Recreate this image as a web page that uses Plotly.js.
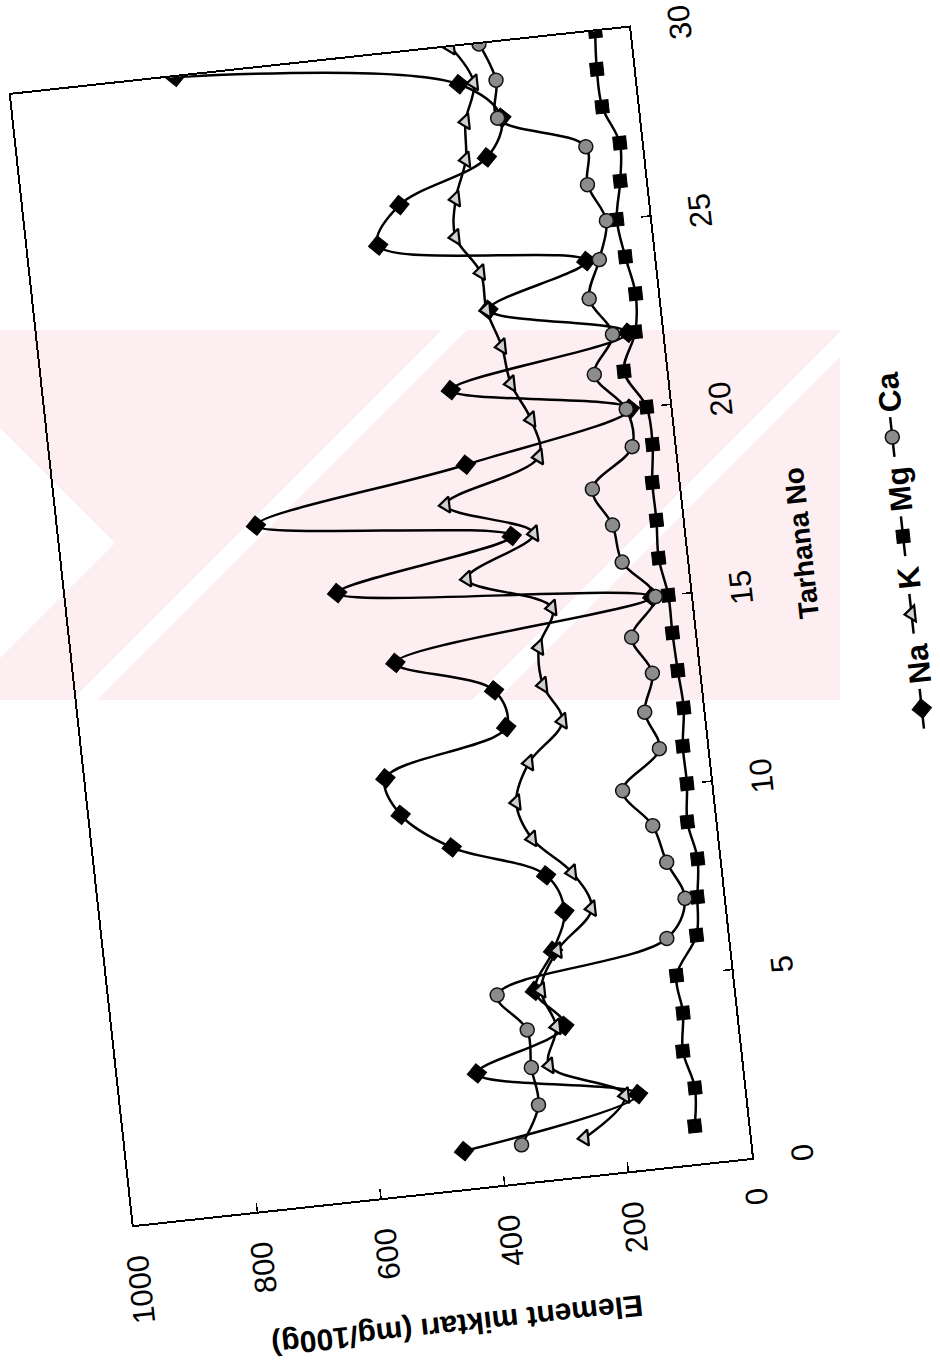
<!DOCTYPE html>
<html><head><meta charset="utf-8">
<script src="https://cdn.plot.ly/plotly-3.0.1.min.js"></script>
<style>
html,body{margin:0;padding:0;overflow:hidden;background:#fff;width:940px;height:1371px;}
#bg{position:absolute;left:0;top:0;width:940px;height:1371px;}
#chart{position:absolute;left:0;top:0;width:1327px;height:912px;transform-origin:0 0;transform:translate(132.1px,1396.3px) rotate(-96.2deg);}
</style></head><body>
<div id="bg"></div>
<div id="chart"></div>
<script>
// ---- data ----
const tarhanaNo = [1,2,3,4,5,6,7,8,9,10,11,12,13,14,15,16,17,18,19,20,21,22,23,24,25,26,27,28,29,30];
const Na = [459,171,425,277,318,282,257,280,426,502,520,318,331,484,62,565,276,683,337,65,348,55,274,109,439,398,250,220,282,734];
const K  = [264,192,308,290,308,275,213,238,296,315,288,227,252,252,224,355,240,376,219,225,251,259,277,280,314,307,284,278,258,289];
const Mg = [86,79,92,85,89,50,42,35,45,39,39,31,34,36,36,45,42,42,35,38,68,43,36,46,53,41,35,57,59,55];
const Ca = [366,332,337,337,379,98,62,85,101,143,77,94,75,102,57,104,113,139,68,71,116,80,111,88,70,94,90,226,222,243];
const seriesNames = ['Na','K','Mg','Ca'];
const xTicks = [0,5,10,15,20,25,30];
const yTicks = [0,200,400,600,800,1000];
const xTitle = 'Tarhana No';
const yTitle = 'Element miktarı (mg/100g)';

// ---- faint watermark in the page background ----
const pink = '#fdeef1';
Plotly.newPlot('bg', [], {
  width:940, height:1371, margin:{l:0,r:0,t:0,b:0},
  paper_bgcolor:'#fff', plot_bgcolor:'#fff',
  xaxis:{range:[0,940], visible:false, fixedrange:true},
  yaxis:{range:[1371,0], visible:false, fixedrange:true},
  shapes:[
    {type:'rect', x0:0, x1:840, y0:330, y1:700, fillcolor:pink, line:{width:0}, layer:'below'},
    {type:'path', path:'M 0 428 L 115 543 L 0 658 Z', fillcolor:'#fff', line:{width:0}, layer:'below'},
    {type:'path', path:'M 442 330 L 467 330 L 97 700 L 72 700 Z', fillcolor:'#fff', line:{width:0}, layer:'below'},
    {type:'path', path:'M 842 330 L 867 330 L 497 700 L 472 700 Z', fillcolor:'#fff', line:{width:0}, layer:'below'}
  ],
  showlegend:false
}, {staticPlot:true});

// ---- chart (drawn upright, then turned as in the scanned page) ----
const F = 'Liberation Sans, Arial, sans-serif';
const lineStyle = {color:'#000', width:2.5, shape:'spline', smoothing:1};
const traces = [
  {name:seriesNames[0], x:tarhanaNo, y:Na, mode:'lines+markers', line:lineStyle,
   marker:{symbol:'diamond', size:15, color:'#000', line:{color:'#000', width:1}}},
  {name:seriesNames[1], x:tarhanaNo, y:K, mode:'lines+markers', line:lineStyle,
   marker:{symbol:'triangle-up', size:14, color:'#cfcfcf', line:{color:'#000', width:2.2}}},
  {name:seriesNames[2], x:tarhanaNo, y:Mg, mode:'lines+markers', line:lineStyle,
   marker:{symbol:'square', size:13, color:'#000', line:{color:'#000', width:1}}},
  {name:seriesNames[3], x:tarhanaNo, y:Ca, mode:'lines+markers', line:lineStyle,
   marker:{symbol:'circle', size:14, color:'#8c8c8c', line:{color:'#111', width:1.5}}}
];
const axisCommon = {
  showline:true, linecolor:'#000', linewidth:2, mirror:true,
  ticks:'inside', ticklen:9, tickwidth:1.5, tickcolor:'#000',
  showgrid:false, zeroline:false,
  tickfont:{family:F, size:31, color:'#000'}
};
const layout = {
  width:1327, height:912,
  margin:{l:170, r:20, t:20, b:270},
  paper_bgcolor:'rgba(0,0,0,0)', plot_bgcolor:'rgba(0,0,0,0)',
  font:{family:F, color:'#000'},
  xaxis:Object.assign({}, axisCommon, {range:[0,30], tickvals:xTicks, ticktext:xTicks.map(String), ticklabelstandoff:22}),
  yaxis:Object.assign({}, axisCommon, {range:[0,1000], tickvals:yTicks, ticktext:yTicks.map(String), ticklabelstandoff:22}),
  showlegend:true,
  legend:{orientation:'h', x:0.517, xanchor:'center', y:-0.35, yanchor:'middle',
          font:{family:F, size:31, color:'#000', weight:'bold'}, bgcolor:'rgba(0,0,0,0)', itemwidth:40},
  annotations:[
    {text:xTitle, xref:'paper', yref:'paper', x:0.533, y:-0.185, xanchor:'center', yanchor:'middle',
     showarrow:false, font:{family:F, size:28, color:'#000', weight:'bold'}},
    {text:yTitle, xref:'paper', yref:'paper', x:-0.119, y:0.5, xanchor:'center', yanchor:'middle', textangle:-90,
     showarrow:false, font:{family:F, size:30, color:'#000', weight:'bold'}}
  ]
};
Plotly.newPlot('chart', traces, layout, {staticPlot:true});
</script>
</body></html>
